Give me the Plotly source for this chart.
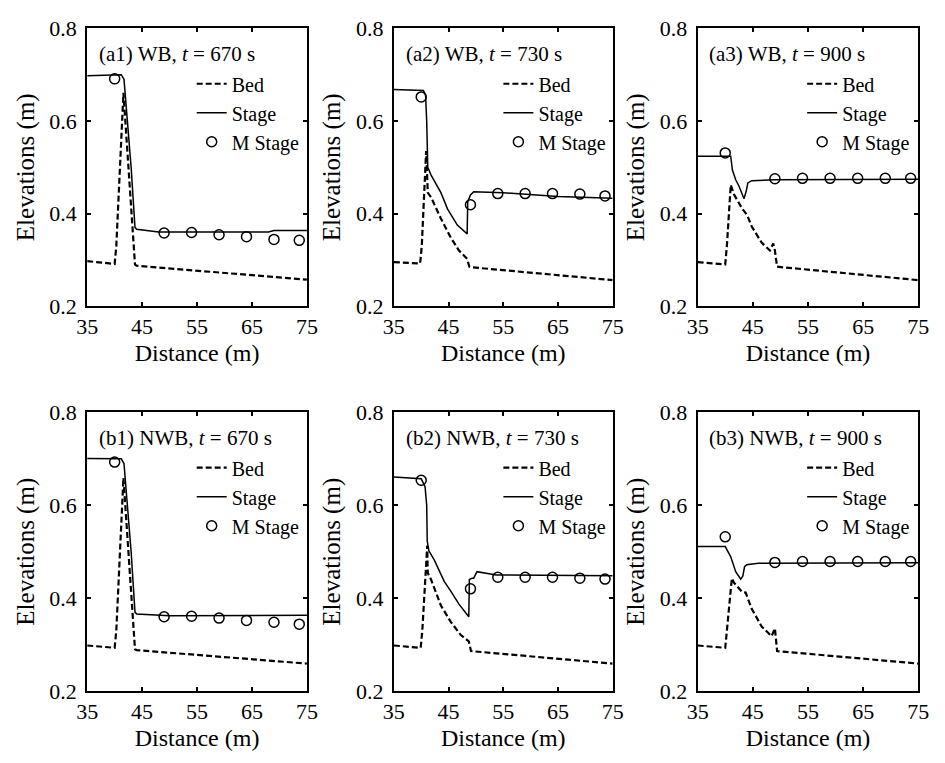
import plotly.graph_objects as go

# ---------------- data ----------------
m_x = [40.0, 49.0, 54.0, 59.0, 64.0, 69.0, 73.6]

bed_x_a1 = [35, 40.0, 40.3, 41.6, 43.7, 44.0, 75]
bed_y_a1 = [0.297, 0.291, 0.33, 0.661, 0.29, 0.287, 0.257]
stage_x_a1 = [35, 41.2, 41.7, 42.2, 43.0, 43.7, 44.0, 48, 68, 69, 75]
stage_y_a1 = [0.698, 0.700, 0.690, 0.62, 0.50, 0.37, 0.366, 0.360, 0.360, 0.363, 0.363]
m_a1 = [0.691, 0.358, 0.359, 0.354, 0.350, 0.344, 0.342]

bed_x_a2 = [35, 39.8, 40.1, 40.9, 41.2, 41.8, 43.6, 45.4, 46.9, 48.4, 48.8, 49.0, 75]
bed_y_a2 = [0.295, 0.292, 0.33, 0.535, 0.445, 0.435, 0.389, 0.348, 0.320, 0.302, 0.285, 0.284, 0.256]
stage_x_a2 = [35, 40.4, 40.8, 41.0, 41.2, 41.8, 43.6, 44.8, 46.6, 48.4, 48.5, 49.0, 49.6, 55, 65, 75]
stage_y_a2 = [0.668, 0.666, 0.655, 0.60, 0.50, 0.483, 0.445, 0.41, 0.375, 0.356, 0.425, 0.44, 0.447, 0.445, 0.437, 0.433]
m_a2 = [0.652, 0.419, 0.443, 0.443, 0.443, 0.442, 0.438]

bed_x_a3 = [35, 40.0, 40.3, 41.0, 41.6, 43.1, 44.0, 44.8, 46.6, 48.1, 48.7, 49.0, 49.4, 75]
bed_y_a3 = [0.295, 0.290, 0.33, 0.462, 0.441, 0.410, 0.396, 0.372, 0.337, 0.320, 0.335, 0.320, 0.285, 0.256]
stage_x_a3 = [35, 41.0, 41.3, 41.9, 42.5, 43.1, 43.4, 43.8, 44.1, 44.8, 49, 75]
stage_y_a3 = [0.524, 0.524, 0.494, 0.473, 0.459, 0.438, 0.432, 0.448, 0.466, 0.471, 0.473, 0.474]
m_a3 = [0.531, 0.475, 0.476, 0.476, 0.476, 0.476, 0.476]

bed_x_b1 = [35, 40.0, 40.3, 41.6, 43.7, 44.0, 75]
bed_y_b1 = [0.298, 0.293, 0.33, 0.659, 0.290, 0.288, 0.259]
stage_x_b1 = [35, 41.2, 41.7, 42.2, 43.0, 43.7, 44.0, 50, 75]
stage_y_b1 = [0.701, 0.700, 0.690, 0.62, 0.50, 0.37, 0.366, 0.362, 0.363]
m_b1 = [0.693, 0.360, 0.361, 0.357, 0.352, 0.348, 0.344]

bed_x_b2 = [35, 39.9, 40.2, 41.1, 41.2, 41.8, 43.6, 45.4, 47.2, 48.7, 49.1, 75]
bed_y_b2 = [0.298, 0.293, 0.33, 0.513, 0.454, 0.440, 0.384, 0.349, 0.321, 0.307, 0.286, 0.259]
stage_x_b2 = [35, 40.0, 40.7, 41.0, 41.1, 41.4, 42.4, 44.2, 45.4, 46.9, 48.7, 48.8, 49.3, 49.6, 50.2, 51.3, 53.7, 75]
stage_y_b2 = [0.661, 0.657, 0.64, 0.60, 0.523, 0.502, 0.482, 0.436, 0.415, 0.387, 0.360, 0.44, 0.443, 0.443, 0.457, 0.455, 0.450, 0.448]
m_b2 = [0.654, 0.420, 0.445, 0.445, 0.445, 0.443, 0.441]

bed_x_b3 = [35, 40.0, 40.3, 41.2, 41.6, 43.1, 43.7, 44.8, 46.6, 48.4, 49.0, 49.4, 75]
bed_y_b3 = [0.298, 0.293, 0.33, 0.443, 0.433, 0.413, 0.412, 0.377, 0.339, 0.318, 0.335, 0.286, 0.259]
stage_x_b3 = [35, 40.0, 41.0, 41.9, 42.8, 43.2, 43.5, 43.9, 46, 75]
stage_y_b3 = [0.511, 0.511, 0.489, 0.457, 0.441, 0.448, 0.468, 0.472, 0.475, 0.476]
m_b3 = [0.532, 0.477, 0.479, 0.479, 0.479, 0.479, 0.479]

panel_labels = ["(a1) WB, ", "(a2) WB, ", "(a3) WB, ", "(b1) NWB, ", "(b2) NWB, ", "(b3) NWB, "]
panel_times = ["670", "730", "900", "670", "730", "900"]
x_ticks = [35, 45, 55, 65, 75]
y_ticks = [0.2, 0.4, 0.6, 0.8]
series_names = ["Bed", "Stage", "M Stage"]

panels = [
    (bed_x_a1, bed_y_a1, stage_x_a1, stage_y_a1, m_a1),
    (bed_x_a2, bed_y_a2, stage_x_a2, stage_y_a2, m_a2),
    (bed_x_a3, bed_y_a3, stage_x_a3, stage_y_a3, m_a3),
    (bed_x_b1, bed_y_b1, stage_x_b1, stage_y_b1, m_b1),
    (bed_x_b2, bed_y_b2, stage_x_b2, stage_y_b2, m_b2),
    (bed_x_b3, bed_y_b3, stage_x_b3, stage_y_b3, m_b3),
]

# ---------------- layout geometry ----------------
W, H = 945, 763
FONT = "'Times New Roman', 'Liberation Serif', 'DejaVu Serif', serif"
x_doms = [[78 / W, 303 / W], [392 / W, 616 / W], [703 / W, 929 / W]]
y_doms = [[1 - 304 / H, 1 - 17 / H], [1 - 702 / H, 1 - 414 / H]]
leg_dx = 149 - 42   # px from axis left to legend box left
leg_top = [1 - 54 / H, 1 - 451 / H]

fig = go.Figure()
layout = dict(
    width=W, height=H, margin=dict(l=0, r=0, t=0, b=0),
    paper_bgcolor="white", plot_bgcolor="white",
    font=dict(family=FONT, size=21, color="black"),
    annotations=[],
)

for i, (bx, by, sx, sy, my) in enumerate(panels):
    r, c = divmod(i, 3)
    sfx = "" if i == 0 else str(i + 1)
    xa, ya = "x" + sfx, "y" + sfx
    leg = "legend" + sfx
    fig.add_trace(go.Scatter(x=bx, y=by, mode="lines", name=series_names[0],
                             line=dict(color="black", width=2.2, dash="6px,3px"),
                             xaxis=xa, yaxis=ya, legend=leg))
    fig.add_trace(go.Scatter(x=sx, y=sy, mode="lines", name=series_names[1],
                             line=dict(color="black", width=1.5),
                             xaxis=xa, yaxis=ya, legend=leg))
    fig.add_trace(go.Scatter(x=m_x, y=my, mode="markers", name=series_names[2],
                             marker=dict(symbol="circle-open", size=10, color="black",
                                         line=dict(width=1.5, color="black")),
                             xaxis=xa, yaxis=ya, legend=leg))
    axis_common = dict(showgrid=False, zeroline=False, showline=True, linecolor="black",
                       linewidth=2, mirror="allticks", ticks="inside", ticklen=4,
                       tickwidth=2, tickcolor="black",
                       tickfont=dict(family=FONT, size=22, color="black"))
    layout["xaxis" + sfx] = dict(axis_common, domain=x_doms[c], range=[35, 75],
                                 tickvals=x_ticks, anchor=ya,
                                 title=dict(text="Distance (m)", standoff=6,
                                            font=dict(family=FONT, size=24)))
    layout["yaxis" + sfx] = dict(axis_common, domain=y_doms[r], range=[0.2, 0.8],
                                 tickvals=y_ticks, tickformat=".1f", anchor=xa,
                                 ticklabelstandoff=4,
                                 title=dict(text="Elevations (m)", standoff=8,
                                            font=dict(family=FONT, size=25)))
    x0_px = x_doms[c][0] * W
    layout[leg] = dict(x=(x0_px + leg_dx) / W, y=leg_top[r], xanchor="left", yanchor="top",
                       bgcolor="rgba(0,0,0,0)", borderwidth=0,
                       font=dict(family=FONT, size=20, color="black"),
                       tracegroupgap=0)
    layout["annotations"].append(dict(
        xref=xa + " domain", yref=ya + " domain", x=0.044, y=0.909,
        xanchor="left", yanchor="middle", showarrow=False,
        text=panel_labels[i] + "<i>t</i> = " + panel_times[i] + " s",
        font=dict(family=FONT, size=21, color="black")))

fig.update_layout(**layout)
fig.write_html("out.html")
